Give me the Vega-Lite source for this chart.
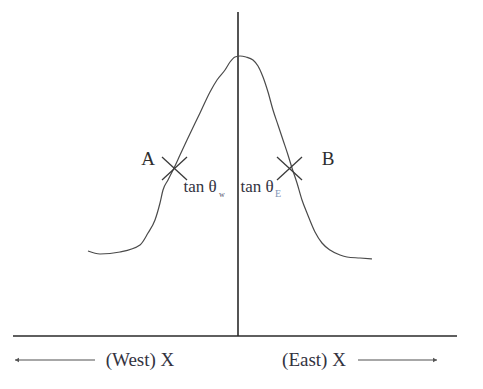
{
  "$schema": "https://vega.github.io/schema/vega-lite/v6.json",
  "width": 483,
  "height": 389,
  "autosize": "none",
  "padding": 0,
  "background": "white",
  "config": {"view": {"stroke": null}},
  "datasets": {
    "curve": [
      {"i": 0, "x": -150, "y": 85}, {"i": 1, "x": -138, "y": 82}, {"i": 2, "x": -118, "y": 84},
      {"i": 3, "x": -98, "y": 91}, {"i": 4, "x": -90, "y": 103}, {"i": 5, "x": -83, "y": 116},
      {"i": 6, "x": -78, "y": 133}, {"i": 7, "x": -75, "y": 146}, {"i": 8, "x": -70, "y": 156},
      {"i": 9, "x": -64, "y": 168}, {"i": 10, "x": -58, "y": 181}, {"i": 11, "x": -51, "y": 196},
      {"i": 12, "x": -38, "y": 223}, {"i": 13, "x": -28, "y": 244}, {"i": 14, "x": -21, "y": 256},
      {"i": 15, "x": -13, "y": 266}, {"i": 16, "x": -8, "y": 274}, {"i": 17, "x": -3, "y": 279},
      {"i": 18, "x": 2, "y": 280}, {"i": 19, "x": 8, "y": 279}, {"i": 20, "x": 15, "y": 276},
      {"i": 21, "x": 20, "y": 270}, {"i": 22, "x": 25, "y": 259}, {"i": 23, "x": 30, "y": 244},
      {"i": 24, "x": 35, "y": 226}, {"i": 25, "x": 40, "y": 211}, {"i": 26, "x": 45, "y": 196},
      {"i": 27, "x": 50, "y": 181}, {"i": 28, "x": 54, "y": 168}, {"i": 29, "x": 59, "y": 153},
      {"i": 30, "x": 64, "y": 136}, {"i": 31, "x": 69, "y": 123}, {"i": 32, "x": 77, "y": 104},
      {"i": 33, "x": 84, "y": 93}, {"i": 34, "x": 92, "y": 86}, {"i": 35, "x": 102, "y": 81},
      {"i": 36, "x": 109, "y": 79}, {"i": 37, "x": 122, "y": 78}, {"i": 38, "x": 134, "y": 77}
    ],
    "axes": [
      {"x": 0, "y": 0, "x2": 0, "y2": 324},
      {"x": -225, "y": 0, "x2": 219, "y2": 0}
    ],
    "crosses": [
      {"x": -76, "y": 179, "x2": -51, "y2": 156},
      {"x": -76, "y": 156, "x2": -51, "y2": 179},
      {"x": 39, "y": 179, "x2": 64, "y2": 156},
      {"x": 39, "y": 156, "x2": 64, "y2": 179}
    ],
    "arrows": [
      {"x": -223, "y": -24, "x2": -143, "y2": -24},
      {"x": 120, "y": -24, "x2": 199, "y2": -24}
    ],
    "heads": [
      {"x": -221, "y": -24, "shape": "triangle-left"},
      {"x": 197, "y": -24, "shape": "triangle-right"}
    ],
    "points": [
      {"x": -90, "y": 171, "label": "A"},
      {"x": 90, "y": 171, "label": "B"}
    ],
    "slopes": [
      {"x": -38, "y": 144, "label": "tan θ"},
      {"x": 19, "y": 144, "label": "tan θ"}
    ],
    "subs": [
      {"x": -16, "y": 139, "label": "w", "c": "#55556a", "s": 8},
      {"x": 40, "y": 139, "label": "E", "c": "#7f93b5", "s": 10}
    ],
    "directions": [
      {"x": -98, "y": -30, "label": "(West) X"},
      {"x": 76, "y": -30, "label": "(East) X"}
    ]
  },
  "encoding": {
    "x": {"field": "x", "type": "quantitative", "scale": {"domain": [-238, 245], "nice": false, "zero": false}, "axis": null},
    "y": {"field": "y", "type": "quantitative", "scale": {"domain": [-53, 336], "nice": false, "zero": false}, "axis": null}
  },
  "layer": [
    {
      "data": {"name": "axes"},
      "mark": {"type": "rule", "color": "#2a2a2a", "strokeWidth": 1.6},
      "encoding": {"x2": {"field": "x2"}, "y2": {"field": "y2"}}
    },
    {
      "data": {"name": "curve"},
      "mark": {"type": "line", "color": "#4a4a4a", "strokeWidth": 1.2, "interpolate": "monotone"},
      "encoding": {"order": {"field": "i", "type": "quantitative"}}
    },
    {
      "data": {"name": "crosses"},
      "mark": {"type": "rule", "color": "#3a3a3a", "strokeWidth": 1.3},
      "encoding": {"x2": {"field": "x2"}, "y2": {"field": "y2"}}
    },
    {
      "data": {"name": "arrows"},
      "mark": {"type": "rule", "color": "#8a8a8a", "strokeWidth": 1.6},
      "encoding": {"x2": {"field": "x2"}, "y2": {"field": "y2"}}
    },
    {
      "data": {"name": "heads"},
      "mark": {"type": "point", "filled": true, "color": "#555555", "size": 22, "opacity": 1},
      "encoding": {"shape": {"field": "shape", "type": "nominal", "scale": null}}
    },
    {
      "data": {"name": "points"},
      "mark": {"type": "text", "font": "Liberation Serif", "fontSize": 19, "color": "#2e2e2e", "baseline": "alphabetic"},
      "encoding": {"text": {"field": "label"}}
    },
    {
      "data": {"name": "slopes"},
      "mark": {"type": "text", "font": "Liberation Serif", "fontSize": 17, "color": "#33333f", "baseline": "alphabetic"},
      "encoding": {"text": {"field": "label"}}
    },
    {
      "data": {"name": "subs"},
      "mark": {"type": "text", "font": "Liberation Serif", "baseline": "alphabetic"},
      "encoding": {
        "text": {"field": "label"},
        "color": {"field": "c", "type": "nominal", "scale": null},
        "size": {"field": "s", "type": "quantitative", "scale": null}
      }
    },
    {
      "data": {"name": "directions"},
      "mark": {"type": "text", "font": "Liberation Serif", "fontSize": 19, "color": "#33333f", "baseline": "alphabetic"},
      "encoding": {"text": {"field": "label"}}
    }
  ]
}
